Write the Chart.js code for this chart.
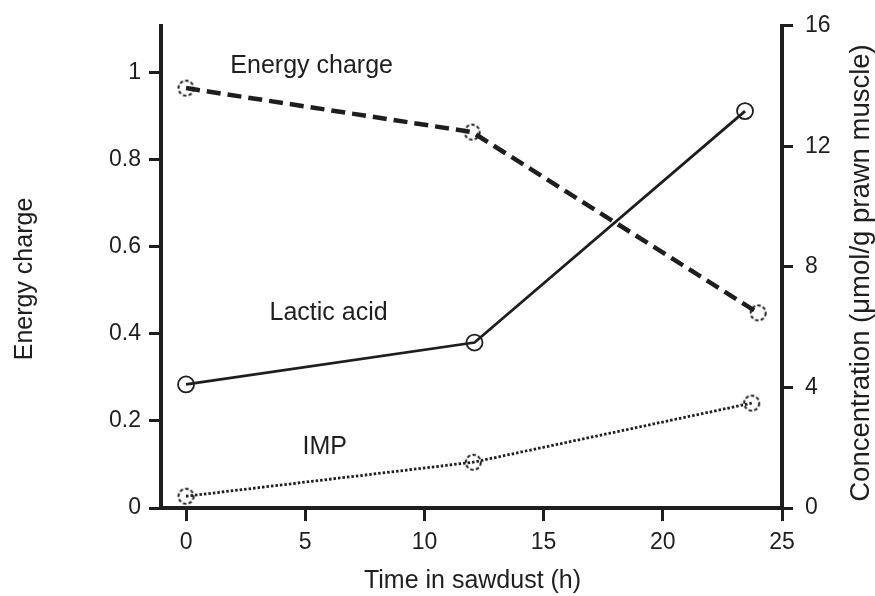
<!DOCTYPE html>
<html>
<head>
<meta charset="utf-8">
<script src="https://cdn.jsdelivr.net/npm/chart.js@4/dist/chart.umd.min.js"></script>
<style>
  html, body { margin: 0; padding: 0; background: #fff; }
  #wrap { width: 875px; height: 596px; }
</style>
</head>
<body>
<div id="wrap"><canvas id="c" width="875" height="596"></canvas></div>
<script>
// ---- data ----
const ecHours      = [0, 12, 24.0];
const energyCharge = [0.964, 0.863, 0.448];

const lacticHours  = [0, 12.1, 23.45];
const lacticAcid   = [4.10, 5.49, 13.17];

const impHours     = [0, 12.05, 23.73];
const imp          = [0.39, 1.52, 3.48];

const xTicks          = [0, 5, 10, 15, 20, 25];
const leftTicks       = [0, 0.2, 0.4, 0.6, 0.8, 1];
const leftTickLabels  = ['0', '0.2', '0.4', '0.6', '0.8', '1'];
const rightTicks      = [0, 4, 8, 12, 16];

const xTitle     = 'Time in sawdust (h)';
const leftTitle  = 'Energy charge';
const rightTitle = 'Concentration (\u03bcmol/g prawn muscle)';

// inline curve labels: [text, x (h), y (energy-charge units)]
const curveLabels = [
  ['Energy charge', 5.27, 0.998],
  ['Lactic acid',   5.98, 0.431],
  ['IMP',           5.82, 0.125]
];

// ---- styling ----
const INK = '#1e1e1e';
const FONT = '"Liberation Sans", Arial, Helvetica, sans-serif';

function dashedCircle(r, lw) {
  const s = Math.ceil(2 * r + lw * 2 + 2);
  const cv = document.createElement('canvas');
  cv.width = s; cv.height = s;
  const g = cv.getContext('2d');
  g.strokeStyle = INK;
  g.lineWidth = lw;
  g.setLineDash([3.5, 2.2]);
  g.beginPath();
  g.arc(s / 2, s / 2, r, 0, Math.PI * 2);
  g.stroke();
  return cv;
}
const dashedPt = dashedCircle(7.5, 2);

const pts = (xs, ys) => xs.map((x, i) => ({ x: x, y: ys[i] }));

const textPlugin = {
  id: 'texts',
  afterDraw(chart) {
    const ctx = chart.ctx;
    const xs = chart.scales.x, yl = chart.scales.yL;
    ctx.save();
    ctx.fillStyle = INK;
    ctx.font = '25px ' + FONT;
    ctx.textAlign = 'center';
    ctx.textBaseline = 'alphabetic';
    curveLabels.forEach(([t, x, y]) => {
      ctx.fillText(t, xs.getPixelForValue(x), yl.getPixelForValue(y));
    });
    // x axis title
    const ca = chart.chartArea;
    ctx.fillText(xTitle, (ca.left + ca.right) / 2 + 1, 588);
    // left axis title (reads upward)
    ctx.save();
    ctx.translate(32, 279);
    ctx.rotate(-Math.PI / 2);
    ctx.fillText(leftTitle, 0, 0);
    ctx.restore();
    // right axis title (reads upward)
    ctx.save();
    ctx.font = '27.5px ' + FONT;
    ctx.translate(869, 273);
    ctx.rotate(-Math.PI / 2);
    ctx.fillText(rightTitle, 0, 0);
    ctx.restore();
    ctx.restore();
  }
};

const tickFont = { family: FONT, size: 23 };

new Chart(document.getElementById('c'), {
  type: 'line',
  data: {
    datasets: [
      {
        label: 'Energy charge',
        data: pts(ecHours, energyCharge),
        yAxisID: 'yL',
        borderColor: INK,
        borderWidth: 4.5,
        borderDash: [14, 7],
        pointStyle: dashedPt,
        pointRadius: 8,
        tension: 0
      },
      {
        label: 'Lactic acid',
        data: pts(lacticHours, lacticAcid),
        yAxisID: 'yR',
        borderColor: INK,
        borderWidth: 2.8,
        pointStyle: 'circle',
        pointRadius: 8,
        pointBorderWidth: 1.8,
        pointBorderColor: INK,
        pointBackgroundColor: 'rgba(0,0,0,0)',
        tension: 0
      },
      {
        label: 'IMP',
        data: pts(impHours, imp),
        yAxisID: 'yR',
        borderColor: INK,
        borderWidth: 2.8,
        borderDash: [2.5, 2],
        pointStyle: dashedPt,
        pointRadius: 8,
        tension: 0
      }
    ]
  },
  options: {
    responsive: false,
    animation: false,
    devicePixelRatio: 1,
    layout: { padding: { top: 20, left: 0, right: 0, bottom: 0 } },
    plugins: { legend: { display: false }, tooltip: { enabled: false }, title: { display: false } },
    scales: {
      x: {
        type: 'linear',
        position: 'bottom',
        min: -1.05,
        max: 25,
        afterBuildTicks: s => { s.ticks = xTicks.map(v => ({ value: v })); },
        afterFit: s => { s.height = 88; },
        ticks: { color: INK, font: tickFont, padding: 8, maxRotation: 0 },
        grid: { drawOnChartArea: false, drawTicks: true, tickLength: 13, lineWidth: 3, color: INK },
        border: { display: true, width: 4, color: INK }
      },
      yL: {
        type: 'linear',
        position: 'left',
        min: 0,
        max: 1.107,
        afterBuildTicks: s => { s.ticks = leftTicks.map(v => ({ value: v })); },
        afterFit: s => { s.width = 161; },
        ticks: {
          color: INK, font: tickFont, padding: 8,
          callback: (v, i) => leftTickLabels[i]
        },
        grid: { drawOnChartArea: false, drawTicks: true, tickLength: 12, lineWidth: 3, color: INK },
        border: { display: true, width: 4, color: INK }
      },
      yR: {
        type: 'linear',
        position: 'right',
        min: 0,
        max: 16,
        afterBuildTicks: s => { s.ticks = rightTicks.map(v => ({ value: v })); },
        afterFit: s => { s.width = 93; },
        ticks: { color: INK, font: tickFont, padding: 12 },
        grid: { drawOnChartArea: false, drawTicks: true, tickLength: 11, lineWidth: 3, color: INK },
        border: { display: true, width: 4, color: INK }
      }
    }
  },
  plugins: [textPlugin]
});
</script>
</body>
</html>
